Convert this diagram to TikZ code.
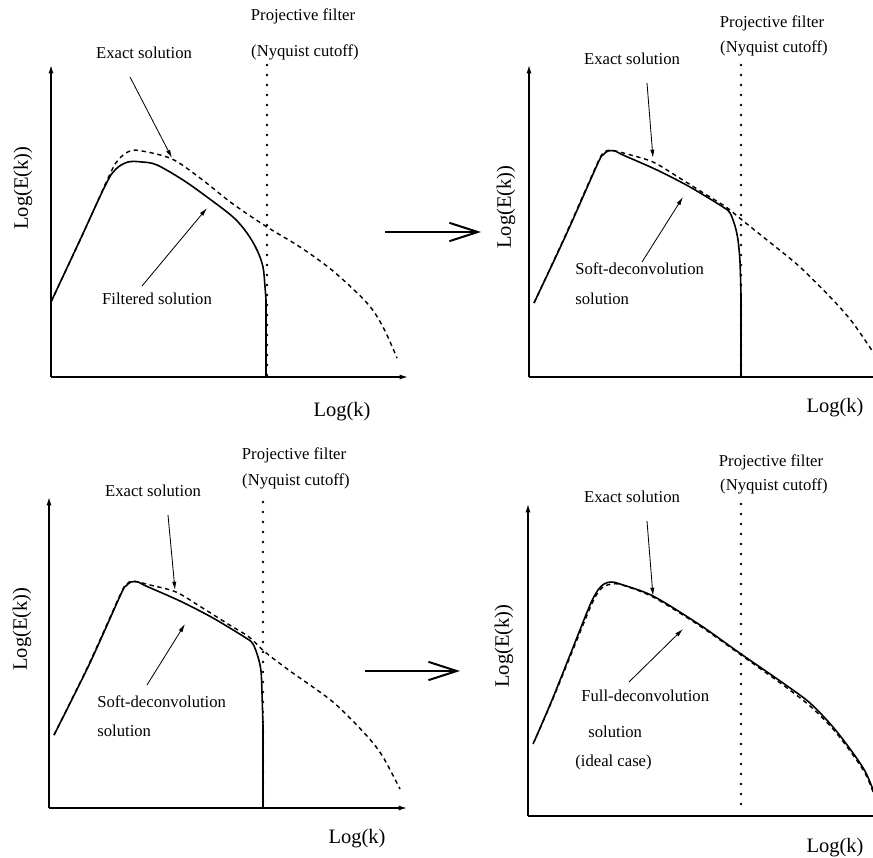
\documentclass[tikz,border=0pt]{standalone}
\usepackage{fontspec}
\setmainfont{Liberation Serif}
\usetikzlibrary{arrows.meta}
\tikzset{
	axis/.style = {draw, line width=0.75pt, -{Latex[length=5pt,width=3pt]}},
	pointer/.style = {draw, line width=0.5pt, -{Latex[length=5pt,width=2.6pt]}},
	exact/.style = {line width=0.85pt, dash pattern=on 2.6pt off 2.2pt},
	approx/.style = {line width=0.95pt},
	cutoff/.style = {line width=1.6pt, dash pattern=on 0pt off 6pt, line cap=round},
	bigarrow/.style = {line width=1.2pt, -{Straight Barb[length=17pt,width=11pt,line width=1.2pt]}},
}

\begin{document}
\begin{tikzpicture}[
	note/.style={inner sep=0pt, font=\fontsize{10}{12}\selectfont},
	axislabel/.style={inner sep=0pt, font=\fontsize{12.3}{14}\selectfont},
	x=0.6pt, y=-0.6pt
	]
	\useasboundingbox (0,0) rectangle (873,858);
	%Panel 1 (filtered)
	\coordinate (o1) at (51,377);
	\coordinate (ytop1) at (51,65);
	\coordinate (xend1) at (408,377);
	\coordinate (ctop1) at (267,65);
	\coordinate (cbot1) at (267,377);
	\node[note]      (proj1)     at (303,16)     {Projective filter};
	\node[note]      (nyq1)      at (305,52)     {(Nyquist cutoff)};
	\node[note]      (exact1)    at (144,53)     {Exact solution};
	\node[note]      (filt1)     at (157,299)    {Filtered solution};
	\node[axislabel, rotate=90]  (ylab1) at (23,188) {Log(E(k))};
	\node[axislabel] (xlab1)     at (342,412)    {Log(k)};
	\coordinate (exactfrom1) at (130,77);
	\coordinate (exactto1) at (172,158);
	\coordinate (filtfrom1) at (142,286);
	\coordinate (filtto1) at (207,208);
	\draw[axis] (o1) -- (ytop1);
	\draw[axis] (o1) -- (xend1);
	\draw[cutoff] (ctop1) -- (cbot1);
	\draw[exact] plot[smooth, tension=0.55] coordinates {(51,302) (82,236) (110,174) (119,159) (130,151) (142,151) (172,159) (200,178) (233,204) (267,227) (300,247) (333,271) (367,303) (383,327) (397,358)};
	\draw[approx] plot[smooth, tension=0.55] coordinates {(51,302) (80,240) (106,184) (116,169) (128,162) (142,162) (157,165) (183,180) (207,197) (233,217) (247,233) (257,250) (263,267) (265,287) (266,300)} -- (266,377);
	\draw[pointer] (exactfrom1) -- (exactto1);
	\draw[pointer] (filtfrom1) -- (filtto1);
	%Panel 2 (soft deconvolution)
	\coordinate (o2) at (529,377);
	\coordinate (ytop2) at (529,65);
	\coordinate (xend2) at (873,377);
	\coordinate (ctop2) at (741,65);
	\coordinate (cbot2) at (741,377);
	\node[note]      (proj2)     at (772,23)     {Projective filter};
	\node[note]      (nyq2)      at (774,48)     {(Nyquist cutoff)};
	\node[note]      (exact2)    at (632,59)     {Exact solution};
	\node[note, anchor=west] (soft2) at (575,269) {Soft-deconvolution};
	\node[note, anchor=west] (sol2)  at (575,299) {solution};
	\node[axislabel, rotate=90]  (ylab2) at (506,207) {Log(E(k))};
	\node[axislabel] (xlab2)     at (835,408)    {Log(k)};
	\coordinate (exactfrom2) at (647,83);
	\coordinate (exactto2) at (653,158);
	\coordinate (softfrom2) at (642,262);
	\coordinate (softto2) at (683,197);
	\draw[axis] (o2) -- (ytop2);
	\draw[axis, -] (o2) -- (xend2);
	\draw[cutoff] (ctop2) -- (cbot2);
	\draw[exact] plot[smooth, tension=0.5] coordinates {(534,303) (566,234) (598,162) (604,153) (610,150) (627,154) (653,162) (678,177) (705,194) (726,207) (742,220) (767,240) (800,267) (833,300) (853,323) (875,355)};
	\draw[approx] plot[smooth, tension=0.5] coordinates {(534,303) (566,235) (598,163) (603,155) (608,151) (615,151) (623,155) (657,170) (690,187) (723,207) (730,213) (735,226) (738,240) (740,262) (741,295)} -- (741,377);
	\draw[pointer] (exactfrom2) -- (exactto2);
	\draw[pointer] (softfrom2) -- (softto2);
	%Panel 3 (soft deconvolution)
	\coordinate (o3) at (49,808);
	\coordinate (ytop3) at (49,497);
	\coordinate (xend3) at (407,808);
	\coordinate (ctop3) at (263,502);
	\coordinate (cbot3) at (263,808);
	\node[note]      (proj3)     at (294,455)    {Projective filter};
	\node[note]      (nyq3)      at (296,481)    {(Nyquist cutoff)};
	\node[note]      (exact3)    at (153,491)    {Exact solution};
	\node[note, anchor=west] (soft3) at (97,702) {Soft-deconvolution};
	\node[note, anchor=west] (sol3)  at (97,731) {solution};
	\node[axislabel, rotate=90]  (ylab3) at (22,629) {Log(E(k))};
	\node[axislabel] (xlab3)     at (357,839)    {Log(k)};
	\coordinate (exactfrom3) at (168,515);
	\coordinate (exactto3) at (175,590);
	\coordinate (softfrom3) at (147,685);
	\coordinate (softto3) at (185,624);
	\draw[axis] (o3) -- (ytop3);
	\draw[axis] (o3) -- (xend3);
	\draw[cutoff] (ctop3) -- (cbot3);
	\draw[exact] plot[smooth, tension=0.5] coordinates {(54,735) (89,664) (121,593) (127,584) (133,581) (150,585) (176,592) (201,607) (228,624) (249,637) (265,652) (290,671) (333,702) (367,736) (383,757) (400,789)};
	\draw[approx] plot[smooth, tension=0.5] coordinates {(54,735) (89,665) (121,594) (126,586) (131,582) (138,582) (146,586) (180,601) (213,618) (246,638) (253,644) (258,657) (261,671) (262,693) (263,726)} -- (263,808);
	\draw[pointer] (exactfrom3) -- (exactto3);
	\draw[pointer] (softfrom3) -- (softto3);
	%Panel 4 (full deconvolution)
	\coordinate (o4) at (528,816);
	\coordinate (ytop4) at (528,504);
	\coordinate (xend4) at (873,816);
	\coordinate (ctop4) at (741,504);
	\coordinate (cbot4) at (741,813);
	\node[note]      (proj4)     at (771,462)    {Projective filter};
	\node[note]      (nyq4)      at (774,486)    {(Nyquist cutoff)};
	\node[note]      (exact4)    at (632,497)    {Exact solution};
	\node[note, anchor=west] (full4)  at (581,696) {Full-deconvolution};
	\node[note, anchor=west] (sol4)   at (588,732) {solution};
	\node[note, anchor=west] (ideal4) at (575,762) {(ideal case)};
	\node[axislabel, rotate=90]  (ylab4) at (504,646) {Log(E(k))};
	\node[axislabel] (xlab4)     at (835,848)    {Log(k)};
	\coordinate (exactfrom4) at (647,521);
	\coordinate (exactto4) at (653,596);
	\coordinate (fullfrom4) at (629,682);
	\coordinate (fullto4) at (683,629);
	\draw[axis] (o4) -- (ytop4);
	\draw[axis, -] (o4) -- (xend4);
	\draw[cutoff] (ctop4) -- (cbot4);
	\draw[exact] plot[smooth, tension=0.5] coordinates {(533,744) (552,701) (572,652) (590,608) (597,594) (603,587) (612,584) (622,585) (653,597) (700,626) (741,655) (783,685) (810,706) (833,729) (853,755) (866,775) (875,797)};
	\draw[approx] plot[smooth, tension=0.5] coordinates {(534,742) (552,700) (572,650) (590,605) (598,590) (604,584) (611,582) (620,584) (653,596) (700,625) (741,654) (783,683) (810,703) (833,727) (853,753) (866,773) (875,795)};
	\draw[pointer] (exactfrom4) -- (exactto4);
	\draw[pointer] (fullfrom4) -- (fullto4);
	%Arrows between panels
	\coordinate (from12) at (385,232);
	\coordinate (to12) at (481,232);
	\coordinate (from34) at (365,671);
	\coordinate (to34) at (460,671);
	\draw[bigarrow] (from12) -- (to12);
	\draw[bigarrow] (from34) -- (to34);
\end{tikzpicture}
\end{document}
